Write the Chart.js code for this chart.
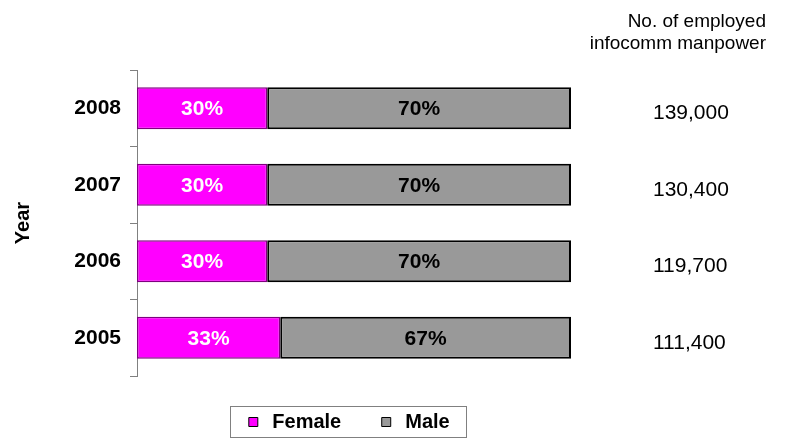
<!DOCTYPE html>
<html>
<head>
<meta charset="utf-8">
<script src="https://cdn.jsdelivr.net/npm/chart.js@4"></script>
<style>
  html, body { margin: 0; padding: 0; background: #fff; }
  #wrap { width: 796px; height: 439px; }
</style>
</head>
<body>
<div id="wrap"><canvas id="chart" width="796" height="439"></canvas></div>
<script>
// === datos ===
const years = ['2008', '2007', '2006', '2005'];
const femaleShare = [30, 30, 30, 33];
const maleShare = [70, 70, 70, 67];
const employedLabels = ['139,000', '130,400', '119,700', '111,400'];
const headerLines = ['No. of employed', 'infocomm manpower'];

const FONT = "'Liberation Sans', Arial, sans-serif";

// margenes: el lado izquierdo negativo centra la leyenda como en el original
const PAD_LEFT = -42;
const PAD_RIGHT = 60;

// etiquetas de % dentro de cada segmento
const barLabels = {
    id: 'barLabels',
    afterDatasetsDraw(chart) {
        const ctx = chart.ctx;
        ctx.save();
        ctx.font = `bold 21px ${FONT}`;
        ctx.textAlign = 'center';
        ctx.textBaseline = 'middle';
        chart.data.datasets.forEach((ds, i) => {
            const meta = chart.getDatasetMeta(i);
            meta.data.forEach((bar, j) => {
                ctx.fillStyle = i === 0 ? '#ffffff' : '#000000';
                ctx.fillText(ds.data[j] + '%', (bar.x + bar.base) / 2, bar.y + 1);
            });
        });
        ctx.restore();
    }
};

// cabecera de la columna derecha + marco de la leyenda
const extras = {
    id: 'extras',
    afterDraw(chart) {
        const ctx = chart.ctx;
        ctx.save();
        ctx.font = `19px ${FONT}`;
        ctx.fillStyle = '#000';
        ctx.textAlign = 'right';
        ctx.textBaseline = 'alphabetic';
        ctx.fillText(headerLines[0], 766, 27);
        ctx.fillText(headerLines[1], 766, 49);

        const boxes = chart.legend.legendHitBoxes;
        if (boxes && boxes.length) {
            const first = boxes[0];
            const last = boxes[boxes.length - 1];
            const cy = first.top + first.height / 2;
            const left = first.left - 14;
            const right = last.left + last.width + 17;
            ctx.strokeStyle = '#808080';
            ctx.lineWidth = 1;
            ctx.strokeRect(Math.round(left) + 0.5, Math.round(cy - 16) + 0.5, Math.round(right - left), 31);
        }
        ctx.restore();
    }
};

const chart = new Chart(document.getElementById('chart').getContext('2d'), {
    type: 'bar',
    data: {
        labels: years,
        datasets: [{
            label: 'Female',
            data: femaleShare,
            backgroundColor: '#ff00ff',
            borderColor: '#800080',
            borderWidth: 1.5,
            borderSkipped: false,
            barPercentage: 0.55,
            categoryPercentage: 1
        }, {
            label: 'Male',
            data: maleShare,
            backgroundColor: '#999999',
            borderColor: '#000000',
            borderWidth: 2,
            borderSkipped: false,
            barPercentage: 0.55,
            categoryPercentage: 1
        }]
    },
    options: {
        indexAxis: 'y',
        responsive: false,
        animation: false,
        layout: { padding: { top: 70, left: PAD_LEFT, right: PAD_RIGHT, bottom: 0 } },
        scales: {
            x: {
                stacked: true,
                min: 0,
                max: 100,
                display: false
            },
            y: {
                stacked: true,
                offset: true,
                grid: { offset: true, drawOnChartArea: false, color: '#808080', tickLength: 7 },
                border: { display: true, color: '#808080', width: 1 },
                ticks: { color: '#000', padding: 9, font: { family: FONT, size: 21, weight: 'bold' } },
                title: {
                    display: true,
                    text: 'Year',
                    color: '#000',
                    padding: { top: 11 - PAD_LEFT, bottom: 0 },
                    font: { family: FONT, size: 20, weight: 'bold' }
                },
                afterFit: (s) => {
                    s.width = 137 - PAD_LEFT;
                    s.paddingTop = 0;
                    s.paddingBottom = 0;
                }
            },
            y2: {
                type: 'category',
                axis: 'y',
                position: 'right',
                labels: employedLabels,
                offset: true,
                grid: { display: false, drawTicks: false, tickLength: 0 },
                border: { display: false },
                ticks: { color: '#000', padding: 82, labelOffset: 5, font: { family: FONT, size: 21 } },
                afterFit: (s) => {
                    s.width = 796 - PAD_RIGHT - 571;
                    s.paddingTop = 0;
                    s.paddingBottom = 0;
                }
            }
        },
        plugins: {
            tooltip: { enabled: false },
            legend: {
                position: 'bottom',
                maxHeight: 63,
                labels: {
                    usePointStyle: true,
                    pointStyle: 'rect',
                    boxWidth: 18,
                    boxHeight: 9,
                    padding: 36,
                    color: '#000',
                    font: { family: FONT, size: 20, weight: 'bold' },
                    generateLabels: (c) => {
                        const items = Chart.defaults.plugins.legend.labels.generateLabels(c);
                        items.forEach(it => { it.strokeStyle = '#000'; it.lineWidth = 1; });
                        return items;
                    }
                }
            }
        }
    },
    plugins: [barLabels, extras]
});
</script>
</body>
</html>
